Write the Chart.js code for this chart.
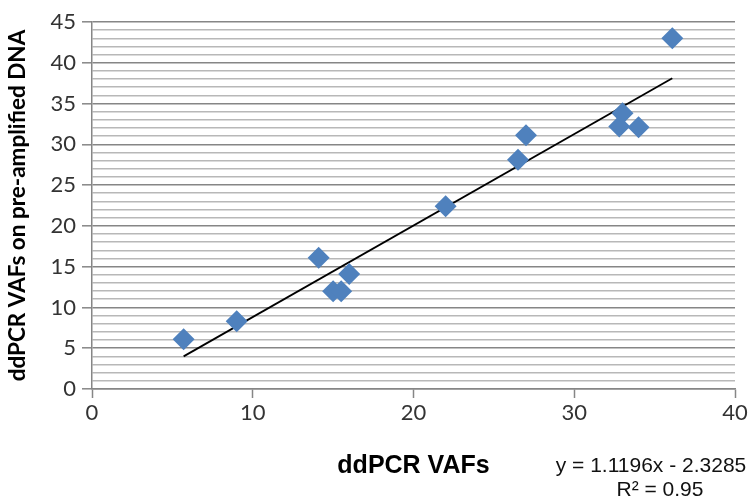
<!DOCTYPE html>
<html>
<head>
<meta charset="utf-8">
<script src="https://cdn.jsdelivr.net/npm/chart.js@4/dist/chart.umd.min.js"></script>
<style>
  html,body{margin:0;padding:0;background:#fff;}
  #wrap{width:755px;height:500px;position:relative;}
</style>
</head>
<body>
<div id="wrap"><canvas id="chart" width="755" height="500"></canvas></div>
<script>
/* ddPCR VAFs vs VAFs on pre-amplified DNA — scatter + linear trend */

const vafX  = [5.7, 9.0, 14.1, 15.0, 15.5, 16.0, 22.0, 26.5, 27.0, 32.8, 33.0, 34.0, 36.1];
const vafY  = [6.1, 8.3, 16.1, 12.0, 12.0, 14.1, 22.4, 28.1, 31.1, 32.2, 33.8, 32.1, 43.0];
const trendX = [5.7, 36.1];
const trendY = [4.0, 38.1];
const xTicks = [0, 10, 20, 30, 40];
const yTicks = [0, 5, 10, 15, 20, 25, 30, 35, 40, 45];
const eqLines = ['y = 1.1196x - 2.3285', 'R\u00b2 = 0.95'];

const MAJOR='#868686', MINOR='#b8b8b8', AXIS='#868686';
const isMajor = v => yTicks.includes(v);

const eqPlugin={id:'eq',afterDraw(chart){
  const ctx=chart.ctx;
  ctx.save();
  ctx.fillStyle='#111';
  ctx.font='21px "Liberation Sans", Arial, sans-serif';
  ctx.textAlign='center'; ctx.textBaseline='middle';
  ctx.fillText(eqLines[0],651,466);
  ctx.fillText(eqLines[1],660,490);
  ctx.restore();
}};

new Chart(document.getElementById('chart'),{
  type:'scatter',
  data:{datasets:[
    {label:'VAF',data:vafX.map((x,i)=>({x,y:vafY[i]})),
     pointStyle:'rectRot',pointRadius:11,pointHoverRadius:11,
     backgroundColor:'#4F81BD',borderColor:'#4F81BD',borderWidth:0,order:1},
    {label:'trend',type:'line',data:trendX.map((x,i)=>({x,y:trendY[i]})),
     borderColor:'#000',borderWidth:1.8,pointRadius:0,fill:false,order:2}
  ]},
  options:{
    responsive:false,animation:false,devicePixelRatio:1,
    layout:{padding:{top:22,right:20,bottom:0,left:0}},
    plugins:{legend:{display:false},tooltip:{enabled:false}},
    scales:{
      x:{type:'linear',min:0,max:40,
        afterBuildTicks:s=>{s.ticks=xTicks.map(v=>({value:v}));},
        afterFit:s=>{s.height=111;},
        ticks:{color:'#333',font:{family:'Lato',size:22},padding:2,maxRotation:0},
        grid:{drawOnChartArea:false,tickLength:9,tickColor:AXIS,tickWidth:1.5},
        border:{color:AXIS,width:1.5},
        title:{display:true,text:'ddPCR VAFs',color:'#000',
          font:{family:'Liberation Sans',size:25,weight:'bold'},padding:{top:0,bottom:19}}
      },
      y:{type:'linear',min:0,max:45,
        afterBuildTicks:s=>{const t=[];for(let v=0;v<=45;v++)t.push({value:v});s.ticks=t;},
        afterFit:s=>{s.width=92;},
        ticks:{color:'#333',font:{family:'Lato',size:22},padding:6,autoSkip:false,
          callback:v=>isMajor(v)?v:''},
        grid:{color:c=>isMajor(c.tick.value)?MAJOR:MINOR,lineWidth:1.6,
          tickLength:10,tickColor:c=>isMajor(c.tick.value)?AXIS:'rgba(0,0,0,0)',tickWidth:1.5},
        border:{color:AXIS,width:1.5},
        title:{display:true,text:'ddPCR VAFs on pre-amplified DNA',color:'#000',
          font:{family:'Lato',size:22.5,weight:'bold'},padding:{top:4,bottom:0}}
      }
    }
  },
  plugins:[eqPlugin]
});
</script>
</body>
</html>
